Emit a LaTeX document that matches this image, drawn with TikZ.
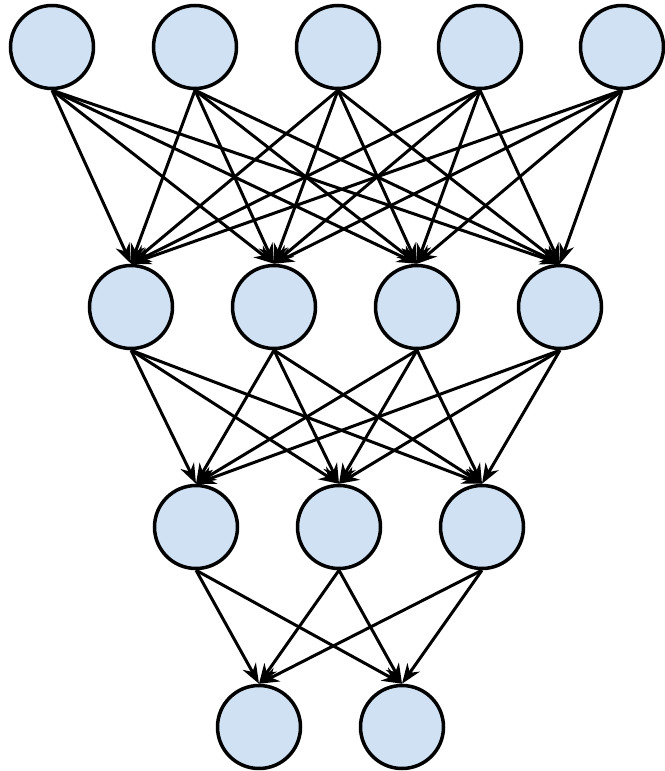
\documentclass[tikz,border=0pt]{standalone}
\usetikzlibrary{arrows.meta}
\definecolor{nodefill}{RGB}{207,225,243}
\begin{document}
\begin{tikzpicture}[x=1pt,y=-1pt,
  neuron/.style={circle,draw=black,line width=3.5pt,fill=nodefill,minimum size=83pt,inner sep=0pt},
  conn/.style={line width=3pt,-{Stealth[length=20pt,width=15pt]}}]
\useasboundingbox (0,0) rectangle (664,771);
\foreach \x [count=\i] in {52,195,338,480,622} \node[neuron] (a\i) at (\x,47) {};
\foreach \x [count=\i] in {131,274,417,560} \node[neuron] (b\i) at (\x,307) {};
\foreach \x [count=\i] in {196,339,482} \node[neuron] (c\i) at (\x,527) {};
\foreach \x [count=\i] in {259,402} \node[neuron] (d\i) at (\x,727) {};
\foreach \i in {1,...,5} \foreach \j in {1,...,4} \draw[conn] (a\i.south) -- (b\j.north);
\foreach \i in {1,...,4} \foreach \j in {1,...,3} \draw[conn] (b\i.south) -- (c\j.north);
\foreach \i in {1,...,3} \foreach \j in {1,2} \draw[conn] (c\i.south) -- (d\j.north);
\end{tikzpicture}
\end{document}
